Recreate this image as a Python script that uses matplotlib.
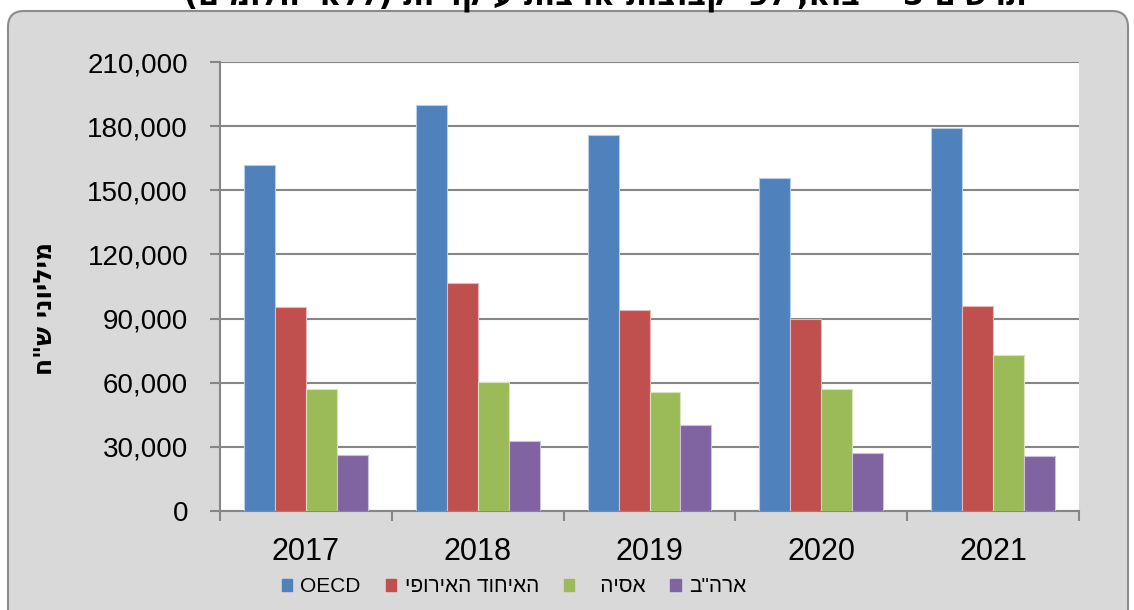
import numpy as np
import matplotlib
matplotlib.use("Agg")
import matplotlib.pyplot as plt
from matplotlib.patches import FancyBboxPatch, Patch
from matplotlib.transforms import IdentityTransform

plt.rcParams['font.family'] = ['Liberation Sans', 'DejaVu Sans']

# data (millions NIS)
years = ["2017", "2018", "2019", "2020", "2021"]
oecd = [162000, 189700, 175900, 155900, 178900]
eu = [95500, 106700, 94100, 90000, 96000]
asia = [56900, 60500, 55600, 56900, 73100]
usa = [26100, 32800, 40200, 26900, 25600]

series_names = ["OECD", "האיחוד האירופי", "אסיה   ", 'ארה"ב']
colors = ["#4f81bd", "#c0504d", "#9bbb59", "#8064a2"]
edges = ["#b9cde5", "#e6b9b8", "#d7e4bd", "#ccc1da"]
y_ticks = [0, 30000, 60000, 90000, 120000, 150000, 180000, 210000]
y_label = 'מיליוני ש"ח'
title = "תרשים 5 - יבוא, לפי קבוצות ארצות עיקריות (ללא יהלומים)"


def rtl(s):
    # matplotlib has no bidi support, so flip hebrew strings by hand
    if not any('\u0590' <= ch <= '\u05ff' for ch in s):
        return s
    return s[::-1].translate(str.maketrans("()", ")("))


W, H = 1134, 610
fig = plt.figure(figsize=(W / 100, H / 100), dpi=100)
fig.patch.set_facecolor("white")

# grey rounded chart area (pixel coords, origin bottom-left)
bg = FancyBboxPatch((8, -30), 1120, H - 11 + 30,
                    boxstyle="round,pad=0,rounding_size=16",
                    transform=IdentityTransform(), facecolor="#d9d9d9",
                    edgecolor="#8c8c8c", linewidth=1.5, zorder=-10)
fig.patches.append(bg)

# title, mostly cut off at the top of the image
fig.text(605 / W, 1 - 4 / H, rtl(title), ha="center", va="baseline",
         fontsize=22, fontweight="bold", color="black", zorder=-5,
         family=["DejaVu Sans"])

ax = fig.add_axes([220 / W, 1 - 511 / H, 859 / W, (511 - 62) / H])
ax.set_zorder(1)
ax.set_facecolor("white")

x = np.arange(len(years))
width = 0.18
data = [oecd, eu, asia, usa]
for i, vals in enumerate(data):
    ax.bar(x + (i - 1.5) * width, vals, width, color=colors[i],
           edgecolor=edges[i], linewidth=0.8, zorder=3)

ax.set_xlim(-0.5, len(years) - 0.5)
ax.set_ylim(0, 210000)
ax.set_yticks(y_ticks)
ax.set_yticklabels([f"{v:,}" for v in y_ticks])
ax.set_xticks(x)
ax.set_xticklabels(years)
ax.set_xticks(np.arange(len(years) + 1) - 0.5, minor=True)

ax.yaxis.grid(True, color="#868686", linewidth=1.5, zorder=0)
ax.set_axisbelow(True)
for side in ["top", "right"]:
    ax.spines[side].set_visible(False)
for side in ["left", "bottom"]:
    ax.spines[side].set_color("#868686")
    ax.spines[side].set_linewidth(1.5)

ax.tick_params(axis="y", labelsize=20, length=7, width=1.5, color="#868686", pad=16)
ax.tick_params(axis="x", which="major", labelsize=22, length=0, pad=19)
ax.tick_params(axis="x", which="minor", length=7, width=1.5, color="#868686")

fig.text(45 / W, 1 - 308 / H, rtl(y_label), rotation=90, ha="center",
         va="center", fontsize=18, fontweight="bold", family=["DejaVu Sans"])

handles = [Patch(facecolor=c, edgecolor=c) for c in colors]
fig.legend(handles, [rtl(n) for n in series_names], loc="center",
           bbox_to_anchor=(514 / W, 1 - 587 / H), ncol=4, frameon=False,
           fontsize=15, handlelength=0.5, handleheight=0.5,
           handletextpad=0.4, columnspacing=1.2)

fig.savefig("out.png", dpi=100)
